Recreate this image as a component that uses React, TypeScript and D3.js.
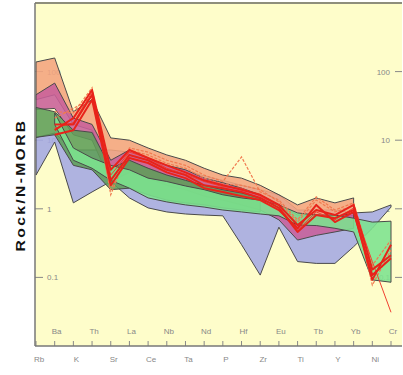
import React from "react";
import * as d3 from "d3";

const elements = ["Rb","Ba","K","Th","Sr","La","Ce","Nb","Ta","Nd","P","Hf","Zr","Eu","Ti","Tb","Y","Yb","Ni","Cr"];
const yTicks = [0.1, 1, 10, 100];
const tickLabels = ["0.1", "1", "10", "100"];

// Fields: start index, upper values, lower values
const blueStart = 0;
const blueUpper = [11, 12.7, 7.2, 7.2, 7.2, 6.7, 5.5, 4.3, 3.7, 3.0, 2.6, 2.2, 1.9, 1.6, 0.96, 0.96, 0.96, 0.87, 0.9, 1.14];
const blueLower = [3.1, 9.4, 1.22, 1.76, 2.5, 1.44, 1.03, 0.9, 0.84, 0.81, 0.79, 0.30, 0.108, 0.54, 0.17, 0.16, 0.16, 0.28, 0.52, 1.06];

const orangeStart = 0;
const orangeUpper = [138, 158, 26, 39, 10.8, 10, 7.7, 6.1, 5.1, 3.9, 3.1, 2.8, 2.2, 1.6, 1.14, 1.44, 1.22, 1.44];
const orangeLower = [39, 46, 17, 14, 3.4, 4.8, 3.9, 3.1, 2.6, 2.0, 1.76, 1.53, 1.26, 0.96, 0.58, 0.73, 0.69, 0.81];

const pinkStart = 0;
const pinkUpper = [46, 68, 21, 17, 5.1, 7.2, 5.5, 4.3, 3.7, 2.8, 2.4, 2.0, 1.6, 1.14, 0.81, 0.81, 0.76, 0.87];
const pinkLower = [28, 29, 12, 10, 2.5, 3.4, 2.8, 2.2, 1.9, 1.53, 1.34, 1.14, 0.96, 0.69, 0.35, 0.41, 0.46, 0.52];

const dkGreenStart = 0;
const dkGreenUpper = [30, 26, 14, 13, 3.9, 5.1, 3.9, 3.1, 2.6, 2.2, 1.9, 1.7, 1.44];
const dkGreenLower = [11, 12, 4.3, 3.7, 1.9, 2.0, 1.6, 1.34, 1.22, 1.14, 1.03, 0.96, 0.9];

const ltGreenStart = 1;
const ltGreenUpper = [25, 7.7, 5.5, 4.3, 3.7, 2.8, 2.5, 2.15, 1.9, 1.6, 1.44, 1.34, 1.14, 0.87, 0.81, 0.81, 0.73, 0.64, 0.66];
const ltGreenLower = [17, 5.1, 3.9, 2.6, 2.0, 1.44, 1.26, 1.14, 1.06, 0.96, 0.9, 0.84, 0.79, 0.58, 0.57, 0.52, 0.46, 0.092, 0.085];

// Sample lines (Ba .. Cr)
const sampleStart = 1;
const red1 = [14, 21, 54, 3.7, 7.2, 5.5, 4.3, 3.4, 2.6, 2.2, 1.9, 1.6, 1.14, 0.58, 0.96, 0.81, 1.14, 0.13, 0.21];
const red2 = [17, 17, 46, 2.6, 6.1, 5.1, 3.7, 3.1, 2.2, 2.0, 1.76, 1.44, 1.03, 0.46, 0.81, 0.73, 0.96, 0.092, 0.30];
const red3 = [12, 14, 39, 2.2, 5.5, 4.65, 3.4, 2.8, 2.0, 1.76, 1.53, 1.34, 0.96, 0.52, 1.14, 0.64, 0.9, 0.108, 0.19];
const red4 = [15, 18, 50, 3.1, 6.7, 5.5, 3.9, 3.2, 2.5, 2.1, 2.0, 1.53, 1.1, 0.49, 0.9, 0.69, 1.03, 0.17, 0.031];
const orange1 = [26, 25, 58, 1.6, 7.7, 6.7, 5.1, 4.3, 3.1, 2.5, 5.7, 1.76, 1.34, 0.69, 1.49, 0.96, 1.22, 0.15, 0.35];
const orange2 = [21, 29, 42, 1.9, 7.2, 6.1, 4.6, 3.9, 2.8, 2.3, 2.2, 1.9, 1.26, 0.64, 1.34, 0.9, 1.1, 0.077, 0.25];

const W = 403, H = 375;
const plotL = 35, plotR = 402, plotT = 3, plotB = 346;

export default function App() {
  const x = d3.scalePoint<string>().domain(elements).range([36, 391]);
  const y = d3.scaleLog().domain([0.01, 1000]).range([plotB, plotT]);

  const area = (start: number, up: number[], lo: number[]) => {
    const pts: [number, number][] = [];
    up.forEach((v, i) => pts.push([x(elements[start + i])!, y(v)]));
    for (let i = lo.length - 1; i >= 0; i--) pts.push([x(elements[start + i])!, y(lo[i])]);
    return d3.line()(pts)! + "Z";
  };
  const line = (start: number, vals: number[]) =>
    d3.line<number>().x((_, i) => x(elements[start + i])!).y((v) => y(v))(vals)!;

  const fields = [
    { s: blueStart, u: blueUpper, l: blueLower, fill: "#a4a9e2" },
    { s: orangeStart, u: orangeUpper, l: orangeLower, fill: "#f4a47e" },
    { s: pinkStart, u: pinkUpper, l: pinkLower, fill: "#c8609a" },
    { s: dkGreenStart, u: dkGreenUpper, l: dkGreenLower, fill: "#5e9e58" },
    { s: ltGreenStart, u: ltGreenUpper, l: ltGreenLower, fill: "#7ce28e" },
  ];
  const reds = [red1, red2, red3];
  const thin = [orange1, orange2];

  const labelFont = "'Liberation Sans', Arial, sans-serif";
  const grey = "#888888";

  return (
    <svg width={W} height={H} style={{ display: "block", position: "absolute", left: 0, top: 0 }}>
      <rect x={0} y={0} width={W} height={H} fill="#ffffff" />
      <rect x={plotL} y={plotT} width={plotR - plotL} height={plotB - plotT} fill="#fefdca" />
      {yTicks.map((t, i) => (
        <g key={"yt" + t}>
          <line x1={plotL} x2={plotL + 8} y1={y(t)} y2={y(t)} stroke="#888" strokeWidth={1} />
          <text x={plotL + 12} y={y(t) + 3} fontSize={8} fill={grey} fontFamily={labelFont}>{tickLabels[i]}</text>
          <line x1={plotR - 7} x2={plotR} y1={y(t)} y2={y(t)} stroke="#888" strokeWidth={1} />
          <text x={plotR - 12} y={y(t) + 3} fontSize={8} fill={grey} textAnchor="end" fontFamily={labelFont}>{tickLabels[i]}</text>
        </g>
      ))}
      {fields.map((f, i) => (
        <path key={"f" + i} d={area(f.s, f.u, f.l)} fill={f.fill} fillOpacity={0.88} stroke="#4a4a4a" strokeWidth={1} strokeLinejoin="round" />
      ))}
      {thin.map((s, i) => (
        <path key={"o" + i} d={line(sampleStart, s)} fill="none" stroke="#f07a50" strokeWidth={1.2} strokeDasharray="3,1.5" />
      ))}
      <path d={line(sampleStart, red4)} fill="none" stroke="#f04030" strokeWidth={1} />
      {reds.map((s, i) => (
        <path key={"r" + i} d={line(sampleStart, s)} fill="none" stroke="#e8231a" strokeWidth={2} strokeLinejoin="round" />
      ))}
      {elements.map((e) => (
        <line key={"xt" + e} x1={x(e)!} x2={x(e)!} y1={plotB} y2={plotB - 5} stroke="#888" strokeWidth={1} />
      ))}
      {elements.map((e, i) =>
        i % 2 === 1 ? (
          <text key={"xl" + e} x={x(e)! + 2} y={334} fontSize={8} fill={grey} textAnchor="middle" fontFamily={labelFont}>{e}</text>
        ) : (
          <text key={"xl" + e} x={x(e)! + 3} y={362} fontSize={8} fill={grey} textAnchor="middle" fontFamily={labelFont}>{e}</text>
        )
      )}
      <line x1={plotL} x2={plotR} y1={plotT} y2={plotT} stroke="#8e8e7c" strokeWidth={2} />
      <line x1={plotL} x2={plotL} y1={plotT} y2={plotB} stroke="#777" strokeWidth={1.5} />
      <line x1={plotL} x2={plotR} y1={plotB} y2={plotB} stroke="#777" strokeWidth={1.5} />
      <text transform={`translate(25,185) rotate(-90) scale(1.2,1)`} textAnchor="middle" fontSize={13} fontWeight="bold" letterSpacing={2} fill="#111" fontFamily={labelFont}>Rock/N-MORB</text>
    </svg>
  );
}
